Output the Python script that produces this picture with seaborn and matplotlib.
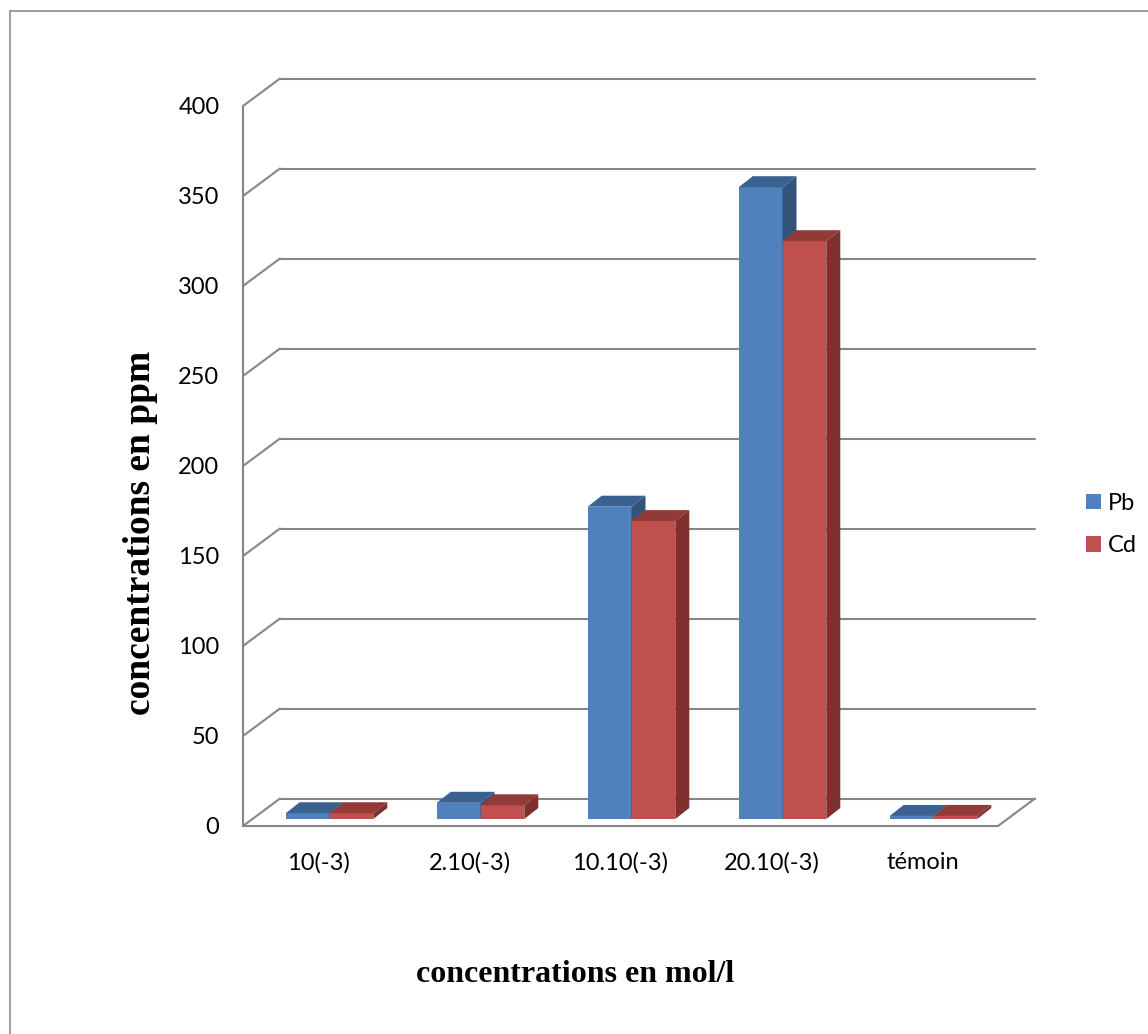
import numpy as np
import pandas as pd
import matplotlib
matplotlib.use("Agg")
import matplotlib.pyplot as plt
from matplotlib.patches import Polygon, Rectangle
from matplotlib.lines import Line2D
from matplotlib.transforms import ScaledTranslation
import seaborn as sns

# ---- data -------------------------------------------------------------
categories = ["10(-3)", "2.10(-3)", "10.10(-3)", "20.10(-3)", "témoin"]
pb_values = [3.2, 9.0, 173.5, 351.0, 1.7]
cd_values = [3.2, 7.6, 165.5, 321.0, 1.7]
series_names = ["Pb", "Cd"]
y_ticks = [0, 50, 100, 150, 200, 250, 300, 350, 400]

df = pd.DataFrame({
    "conc": categories * 2,
    "value": pb_values + cd_values,
    "metal": ["Pb"] * len(categories) + ["Cd"] * len(categories),
})

# ---- style ------------------------------------------------------------
sns.set_style("white")
plt.rcParams["font.family"] = ["Lato", "DejaVu Sans"]
plt.rcParams["text.color"] = "black"

GRID = "#868686"
front_colors = {"Pb": "#4F81BD", "Cd": "#C0504D"}
top_colors = {"Pb": "#3A6190", "Cd": "#923A37"}
side_colors = {"Pb": "#32537C", "Cd": "#7E302E"}

W, H, DPI = 1148, 1034, 100
fig = plt.figure(figsize=(W / DPI, H / DPI), dpi=DPI)
fig.patch.set_facecolor("white")

# axes = front plane of the 3-D box
ax_l, ax_r, ax_t, ax_b = 243, 998, 106, 826
ax = fig.add_axes([ax_l / W, 1 - ax_b / H, (ax_r - ax_l) / W, (ax_b - ax_t) / H])

sns.barplot(data=df, x="conc", y="value", hue="metal", hue_order=series_names,
            order=categories, palette=front_colors, width=0.58, gap=0,
            errorbar=None, linewidth=0, saturation=1, ax=ax)

ax.set_xlim(-0.5, len(categories) - 0.5)
ax.set_ylim(0, 400)
ax.set_facecolor("none")

# pixel -> data unit conversions
p00 = ax.transData.transform((0, 0))
sx = ax.transData.transform((1, 0))[0] - p00[0]
sy = ax.transData.transform((0, 1))[1] - p00[1]

def dx(px):
    return px / sx

def dy(px):
    return px / sy

# ---- back wall gridlines, side wall diagonals and floor ---------------
back_dx, back_dy = dx(37), dy(27.5)
x0, x1 = -0.5, len(categories) - 0.5
for v in y_ticks:
    ax.add_line(Line2D([x0 + back_dx, x1 + back_dx], [v + back_dy, v + back_dy],
                       color=GRID, lw=1.5, zorder=1, clip_on=False))
    ax.add_line(Line2D([x0, x0 + back_dx], [v, v + back_dy],
                       color=GRID, lw=1.5, zorder=1, clip_on=False))
# right edge of the floor
ax.add_line(Line2D([x1, x1 + back_dx], [0, back_dy],
                   color=GRID, lw=1.5, zorder=1, clip_on=False))

# ---- 3-D bars ------------------------------------------------------------
bar_shift = ScaledTranslation(11 / DPI, 7 / DPI, fig.dpi_scale_trans)
bar_tr = ax.transData + bar_shift
depth_x, depth_y = dx(14), dy(11)

for h, (name, container) in enumerate(zip(series_names, ax.containers)):
    for bar in container:
        bx0 = bar.get_x()
        bx1 = bx0 + bar.get_width()
        by0 = bar.get_y()
        by1 = by0 + bar.get_height()
        bar.set_transform(bar_tr)
        bar.set_clip_on(False)
        bar.set_zorder(3 + h)
        top = Polygon([(bx0, by1), (bx1, by1), (bx1 + depth_x, by1 + depth_y),
                       (bx0 + depth_x, by1 + depth_y)], closed=True,
                      facecolor=top_colors[name], edgecolor="none",
                      transform=bar_tr, zorder=3 + h, clip_on=False)
        side = Polygon([(bx1, by0), (bx1, by1), (bx1 + depth_x, by1 + depth_y),
                        (bx1 + depth_x, by0 + depth_y)], closed=True,
                       facecolor=side_colors[name], edgecolor="none",
                       transform=bar_tr, zorder=3 + h, clip_on=False)
        ax.add_patch(top)
        ax.add_patch(side)

# ---- axes ------------------------------------------------------------------
for s in ["top", "right"]:
    ax.spines[s].set_visible(False)
for s in ["left", "bottom"]:
    ax.spines[s].set_color(GRID)
    ax.spines[s].set_linewidth(1.5)
    ax.spines[s].set_zorder(2)

ax.set_yticks(y_ticks)
ax.set_yticklabels([str(v) for v in y_ticks])
ax.tick_params(axis="y", direction="out", length=5, width=1.5, color=GRID,
               pad=12, labelsize=17, labelcolor="black")
ax.set_xticks(range(len(categories)))
ax.set_xticklabels(categories)
ax.set_xticks(np.arange(-0.5, len(categories), 1.0), minor=True)
ax.tick_params(axis="x", which="major", length=0, pad=19, labelsize=17,
               labelcolor="black")
ax.tick_params(axis="x", which="minor", direction="out", length=6, width=1.5,
               color=GRID)
ax.set_xlabel("")
ax.set_ylabel("")

# ---- legend ----------------------------------------------------------------
handles, labels = ax.get_legend_handles_labels()
if ax.get_legend() is not None:
    ax.get_legend().remove()
leg = fig.legend(handles, labels, loc="upper left",
                 bbox_to_anchor=(1086 / W, 1 - 493 / H), frameon=False,
                 fontsize=17, handlelength=0.63, handleheight=0.63,
                 handletextpad=0.3, labelspacing=0.9, borderpad=0,
                 borderaxespad=0)
for t in leg.get_texts():
    t.set_color("black")

# ---- titles ----------------------------------------------------------------
serif = ["Liberation Serif", "DejaVu Serif"]
fig.text(575 / W, 1 - 982 / H, "concentrations en mol/l", family=serif,
         weight="bold", fontsize=23, ha="center", va="baseline", color="black")
fig.text(141 / W, 1 - 533 / H, "concentrations en ppm", family=serif,
         weight="bold", fontsize=27, rotation=90, ha="center", va="center",
         color="black")

# outer chart frame
fig.patches.append(Rectangle((10 / W, -0.1), 1.2, 1 - 11 / H + 0.1,
                             transform=fig.transFigure, fill=False,
                             edgecolor="#8C8C8C", linewidth=1.2))

fig.savefig("out.png", dpi=DPI)
